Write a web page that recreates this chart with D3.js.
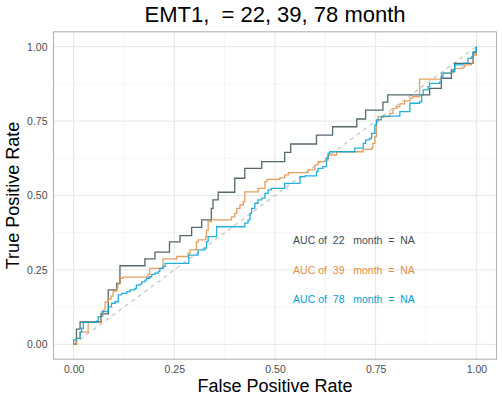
<!DOCTYPE html>
<html>
<head>
<meta charset="utf-8">
<script src="https://cdn.jsdelivr.net/npm/d3@7"></script>
<style>
  body { margin: 0; background: #fff; }
  svg { display: block; font-family: "Liberation Sans", Arial, sans-serif; }
</style>
</head>
<body>
<svg width="502" height="399"></svg>
<script>
// roc curves, points where each vertical step ends (drawn with step-after)
var fpr22 = [0,0.007,0.016,0.068,0.086,0.107,0.115,0.177,0.202,0.238,0.264,0.293,0.318,0.342,0.346,0.359,0.400,0.425,0.467,0.524,0.539,0.603,0.643,0.703,0.725,0.768,0.780,0.884,0.913,0.938,0.946,0.992,1];
var tpr22 = [0,0.051,0.075,0.102,0.183,0.205,0.264,0.287,0.310,0.344,0.365,0.393,0.418,0.457,0.485,0.511,0.558,0.591,0.614,0.645,0.673,0.703,0.731,0.757,0.787,0.814,0.838,0.860,0.894,0.922,0.944,0.979,1];

var fpr39 = [0,0.007,0.016,0.036,0.068,0.073,0.078,0.086,0.093,0.098,0.107,0.110,0.115,0.122,0.185,0.189,0.222,0.256,0.284,0.289,0.305,0.309,0.328,0.330,0.334,0.342,0.392,0.400,0.405,0.413,0.421,0.425,0.458,0.475,0.480,0.512,0.524,0.533,0.582,0.599,0.607,0.624,0.632,0.653,0.719,0.740,0.743,0.748,0.752,0.756,0.785,0.793,0.802,0.810,0.822,0.835,0.842,0.859,0.913,0.942,0.946,0.967,0.971,0.988,0.992,1];
var tpr39 = [0,0.021,0.041,0.074,0.095,0.115,0.142,0.152,0.162,0.179,0.189,0.203,0.222,0.226,0.235,0.255,0.287,0.295,0.306,0.317,0.344,0.351,0.362,0.384,0.412,0.418,0.428,0.440,0.457,0.468,0.479,0.512,0.524,0.546,0.554,0.559,0.569,0.577,0.586,0.603,0.614,0.619,0.636,0.647,0.655,0.659,0.675,0.698,0.748,0.765,0.776,0.793,0.798,0.808,0.818,0.827,0.832,0.891,0.911,0.916,0.927,0.931,0.939,0.944,0.972,1];

var fpr78 = [0,0,0.007,0.016,0.020,0.024,0.057,0.061,0.070,0.086,0.094,0.103,0.111,0.119,0.132,0.140,0.152,0.156,0.165,0.169,0.177,0.181,0.189,0.194,0.202,0.210,0.214,0.222,0.227,0.286,0.309,0.326,0.330,0.334,0.355,0.425,0.433,0.438,0.442,0.450,0.458,0.467,0.475,0.483,0.491,0.524,0.562,0.574,0.603,0.607,0.619,0.628,0.632,0.636,0.698,0.719,0.725,0.735,0.740,0.748,0.752,0.764,0.768,0.810,0.835,0.859,0.864,0.868,0.880,0.884,0.909,0.913,0.917,0.938,0.946,0.967,0.979,0.988,0.992,1];
var tpr78 = [0,0.015,0.020,0.042,0.054,0.074,0.078,0.093,0.110,0.126,0.138,0.143,0.166,0.171,0.177,0.183,0.188,0.199,0.202,0.210,0.216,0.222,0.227,0.235,0.239,0.244,0.255,0.261,0.272,0.300,0.317,0.323,0.345,0.362,0.395,0.407,0.418,0.440,0.457,0.474,0.485,0.491,0.507,0.519,0.524,0.541,0.563,0.566,0.580,0.591,0.597,0.625,0.642,0.647,0.659,0.675,0.687,0.692,0.709,0.737,0.754,0.763,0.767,0.782,0.810,0.815,0.838,0.855,0.866,0.877,0.882,0.899,0.911,0.916,0.939,0.944,0.961,0.966,0.983,1];

var months = [22, 39, 78];
var aucs = ["NA", "NA", "NA"];
var colors = ["#374E55", "#DF8F44", "#00A1D5"];
var ticks = [0, 0.25, 0.5, 0.75, 1];
var minorTicks = [0.125, 0.375, 0.625, 0.875];

var series = [
  {fpr: fpr22, tpr: tpr22},
  {fpr: fpr39, tpr: tpr39},
  {fpr: fpr78, tpr: tpr78}
];

var svg = d3.select("svg"),
  margin = {top: 31.8, right: 5.5, bottom: 39.8, left: 53.5},
  width = +svg.attr("width") - margin.left - margin.right,
  height = +svg.attr("height") - margin.top - margin.bottom,
  g = svg.append("g").attr("transform", "translate(" + margin.left + "," + margin.top + ")");

var x = d3.scaleLinear().domain([-0.05, 1.05]).range([0, width]);
var y = d3.scaleLinear().domain([-0.05, 1.05]).range([height, 0]);

// grid
g.append("g").selectAll("line").data(minorTicks).enter().append("line")
  .attr("x1", function(d) { return x(d); }).attr("x2", function(d) { return x(d); })
  .attr("y1", 0).attr("y2", height)
  .attr("stroke", "#f0f0f0").attr("stroke-width", 0.6);
g.append("g").selectAll("line").data(minorTicks).enter().append("line")
  .attr("y1", function(d) { return y(d); }).attr("y2", function(d) { return y(d); })
  .attr("x1", 0).attr("x2", width)
  .attr("stroke", "#f0f0f0").attr("stroke-width", 0.6);
g.append("g").selectAll("line").data(ticks).enter().append("line")
  .attr("x1", function(d) { return x(d); }).attr("x2", function(d) { return x(d); })
  .attr("y1", 0).attr("y2", height)
  .attr("stroke", "#e6e6e6").attr("stroke-width", 1);
g.append("g").selectAll("line").data(ticks).enter().append("line")
  .attr("y1", function(d) { return y(d); }).attr("y2", function(d) { return y(d); })
  .attr("x1", 0).attr("x2", width)
  .attr("stroke", "#e6e6e6").attr("stroke-width", 1);

// axes (labels only, no tick marks)
var xAxis = g.append("g")
  .attr("transform", "translate(0," + height + ")")
  .call(d3.axisBottom(x).tickValues(ticks).tickFormat(d3.format(".2f")).tickSize(0).tickPadding(6));
var yAxis = g.append("g")
  .call(d3.axisLeft(y).tickValues(ticks).tickFormat(d3.format(".2f")).tickSize(0).tickPadding(6));
[xAxis, yAxis].forEach(function(a) {
  a.select(".domain").remove();
  a.selectAll("text").attr("fill", "#4d4d4d").style("font-size", "10.5px");
});

// diagonal reference
g.append("line")
  .attr("x1", x(0)).attr("y1", y(0)).attr("x2", x(1)).attr("y2", y(1))
  .attr("stroke", "#bfbfbf").attr("stroke-width", 1.1)
  .attr("stroke-dasharray", "4,4");

var line = d3.line()
  .x(function(d) { return x(d[0]); })
  .y(function(d) { return y(d[1]); })
  .curve(d3.curveStepAfter);

series.forEach(function(s, i) {
  var pts = s.fpr.map(function(f, k) { return [f, s.tpr[k]]; });
  g.append("path")
    .datum(pts)
    .attr("fill", "none")
    .attr("stroke", colors[i])
    .attr("stroke-opacity", 0.85)
    .attr("stroke-width", 1.3)
    .attr("d", line);
});

// AUC labels
var labY = [0.35, 0.25, 0.15];
months.forEach(function(m, i) {
  g.append("text")
    .attr("x", x(0.545))
    .attr("y", y(labY[i]))
    .attr("dy", "0.35em")
    .attr("fill", colors[i])
    .style("font-size", "10.5px")
    .style("white-space", "pre")
    .text("AUC of  " + m + "   month  =  " + aucs[i]);
});

// panel border
g.append("rect")
  .attr("width", width).attr("height", height)
  .attr("fill", "none").attr("stroke", "#b3b3b3").attr("stroke-width", 1.1);

// titles
svg.append("text")
  .attr("x", margin.left + width / 2).attr("y", 22)
  .attr("text-anchor", "middle")
  .style("font-size", "22px").attr("fill", "#000")
  .style("white-space", "pre")
  .text("EMT1,  = 22, 39, 78 month");
svg.append("text")
  .attr("x", margin.left + width / 2).attr("y", 392)
  .attr("text-anchor", "middle")
  .style("font-size", "18px").attr("fill", "#000")
  .text("False Positive Rate");
svg.append("text")
  .attr("transform", "translate(19," + (margin.top + height / 2) + ") rotate(-90)")
  .attr("text-anchor", "middle")
  .style("font-size", "18px").attr("fill", "#000")
  .text("True Positive Rate");
</script>
</body>
</html>
